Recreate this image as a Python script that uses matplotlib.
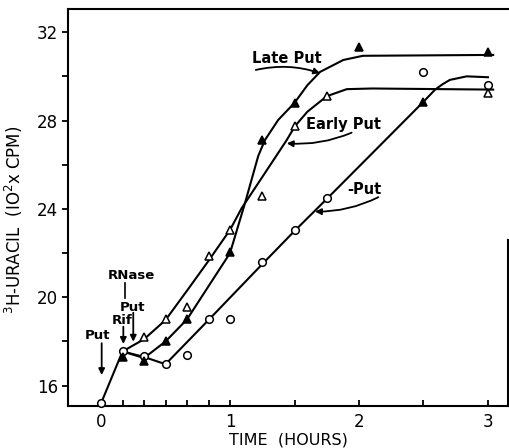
import matplotlib
matplotlib.use("Agg")
import matplotlib.pyplot as plt
from matplotlib.ticker import FixedLocator

plt.rcParams["font.family"] = ["DejaVu Sans"]

# ---------------------------------------------------------------------------
# Data (time in hours, 3H-uracil in 10^2 cpm)
# ---------------------------------------------------------------------------

# -Put (open circles)
noput_t = [0, 1/6, 1/3, 0.5, 2/3, 5/6, 1.0, 1.25, 1.5, 1.75, 2.5, 3.0]
noput_y = [15.2, 17.55, 17.35, 16.97, 17.39, 19.0, 19.0, 21.6, 23.05, 24.5, 30.2, 29.6]

# Late Put (filled triangles)
late_t = [1/6, 1/3, 0.5, 2/3, 1.0, 1.25, 1.5, 2.0, 2.5, 3.0]
late_y = [17.3, 17.1, 18.0, 19.0, 22.05, 27.1, 28.8, 31.35, 28.85, 31.1]

# Early Put (open triangles)
early_t = [1/3, 0.5, 2/3, 5/6, 1.0, 1.25, 1.5, 1.75, 3.0]
early_y = [18.2, 19.0, 19.55, 21.85, 23.05, 24.6, 27.75, 29.1, 29.25]

# hand-drawn fitted curves (knots)
noput_fit_t = [0, 1/6, 1/3, 0.5, 5/6, 1.25, 1.5, 1.75, 2.5, 2.59, 2.65, 2.705, 2.835, 3.0]
noput_fit_y = [15.2, 17.55, 17.3, 16.97, 18.97, 21.5, 23.0, 24.45, 28.85, 29.4, 29.65, 29.84, 30.0, 29.96]

late_fit_t = [1/6, 1/3, 0.5, 2/3, 1.0, 1.116, 1.219, 1.271, 1.374, 1.5, 1.6, 1.698, 1.878, 2.03, 3.04]
late_fit_y = [17.55, 17.25, 18.0, 19.0, 22.0, 24.26, 26.4, 27.12, 28.03, 28.8, 29.6, 30.2, 30.74, 30.93, 30.97]

early_fit_t = [1/6, 1/3, 0.5, 2/3, 5/6, 1.0, 1.09, 1.336, 1.44, 1.504, 1.6, 1.75, 1.905, 2.1, 3.04]
early_fit_y = [17.55, 18.1, 18.97, 20.3, 21.65, 23.05, 24.03, 26.2, 27.12, 27.75, 28.4, 29.1, 29.42, 29.45, 29.4]

x_major = [0, 1, 2, 3]
x_major_labels = ["0", "1", "2", "3"]
x_minor = [1/6, 1/3, 0.5, 2/3, 5/6, 1.5, 2.5]
y_major = [16, 20, 24, 28, 32]
y_minor = [18, 22, 26, 30]

# ---------------------------------------------------------------------------
# Plot
# ---------------------------------------------------------------------------

fig = plt.figure(figsize=(5.09, 4.48), dpi=100)
ax = fig.add_axes([0.1336, 0.0938, 0.8644, 0.8862])

lw = 1.5
ax.plot(noput_fit_t, noput_fit_y, color="k", lw=lw, zorder=2)
ax.plot(late_fit_t, late_fit_y, color="k", lw=lw, zorder=2)
ax.plot(early_fit_t, early_fit_y, color="k", lw=lw, zorder=2)

mk = dict(linestyle="none", markersize=5.5, markeredgewidth=1.1,
          markeredgecolor="k", clip_on=False, zorder=3)
ax.plot(noput_t, noput_y, marker="o", markerfacecolor="white", **mk)
ax.plot(early_t, early_y, marker="^", markerfacecolor="white", **mk)
ax.plot(late_t, late_y, marker="^", markerfacecolor="k", **mk)

ax.set_xlim(-0.256, 3.155)
ax.set_ylim(15.08, 33.05)

ax.xaxis.set_major_locator(FixedLocator(x_major))
ax.set_xticklabels(x_major_labels)
ax.xaxis.set_minor_locator(FixedLocator(x_minor))
ax.yaxis.set_major_locator(FixedLocator(y_major))
ax.yaxis.set_minor_locator(FixedLocator(y_minor))

ax.tick_params(axis="x", which="both", direction="in", length=4, width=1.3,
               pad=5, labelsize=12)
ax.tick_params(axis="y", which="both", direction="out", length=4, width=1.3,
               pad=3, labelsize=12)
for s in ax.spines.values():
    s.set_linewidth(1.5)
ax.spines["right"].set_bounds(15.08, 22.6)

ax.set_xlabel("TIME  (HOURS)", fontsize=11.5, labelpad=1)
ax.set_ylabel(r"$^3$H-URACIL  (IO$^2$x CPM)", fontsize=12, labelpad=2)
ax.yaxis.set_label_coords(-0.098, 0.47)

# curve labels with curved arrows
lab = dict(fontsize=10.5, fontweight="bold", ha="center", va="center")
ax.text(1.442, 30.8, "Late Put", **lab)
ax.text(1.878, 27.8, "Early Put", **lab)
ax.text(2.039, 24.86, "-Put", **lab)

def curved_arrow(start, end, rad):
    ax.annotate("", xy=end, xytext=start,
                arrowprops=dict(arrowstyle="-|>", color="k", lw=1.3,
                                mutation_scale=9, shrinkA=0, shrinkB=0,
                                connectionstyle=f"arc3,rad={rad}"))

curved_arrow((1.20, 30.29), (1.698, 30.14), -0.14)
curved_arrow((1.943, 27.45), (1.44, 26.97), -0.12)
curved_arrow((2.15, 24.53), (1.659, 23.88), -0.12)

# treatment markers near the start
small = dict(fontsize=9.5, fontweight="bold", ha="center", va="center")
ax.text(0.232, 21.0, "RNase", **small)
ax.text(0.245, 19.55, "Put", **small)
ax.text(0.165, 18.95, "Rif", **small)
ax.text(-0.027, 18.25, "Put", **small)

ax.plot([0.186, 0.186], [20.66, 19.96], color="k", lw=1.2)
for x0, y0, y1 in [(0.173, 18.67, 17.89), (0.250, 19.3, 17.99), (0.005, 17.92, 16.48)]:
    ax.annotate("", xy=(x0, y1), xytext=(x0, y0),
                arrowprops=dict(arrowstyle="-|>", color="k", lw=1.3,
                                mutation_scale=9, shrinkA=0, shrinkB=0))

fig.savefig("out.png", dpi=100)
